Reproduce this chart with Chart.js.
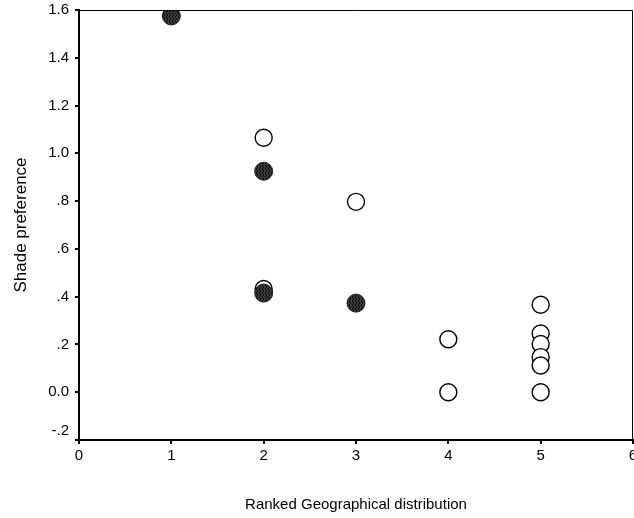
<!DOCTYPE html>
<html>
<head>
<meta charset="utf-8">
<script src="https://cdn.jsdelivr.net/npm/chart.js@4/dist/chart.umd.min.js"></script>
<style>
  html, body { margin: 0; padding: 0; background: #fff; }
  #wrap { width: 634px; height: 518px; }
</style>
</head>
<body>
<div id="wrap"><canvas id="c" width="634" height="518"></canvas></div>
<script>
// ---- data ----
const filledX = [1, 2, 2, 3];
const filledY = [1.575, 0.925, 0.415, 0.373];
const openX = [2, 2, 3, 4, 4, 5, 5, 5, 5, 5, 5];
const openY = [1.065, 0.432, 0.797, 0.222, 0.0, 0.366, 0.246, 0.202, 0.147, 0.112, 0.0];
const yTickLabels = ["-.2", "0.0", ".2", ".4", ".6", ".8", "1.0", "1.2", "1.4", "1.6"];
const xTickLabels = ["0", "1", "2", "3", "4", "5", "6"];
const xTitle = "Ranked Geographical distribution";
const yTitle = "Shade preference";

// hatched fill for the dark markers
function hatchPattern() {
  const p = document.createElement('canvas');
  p.width = 3; p.height = 4;
  const g = p.getContext('2d');
  g.fillStyle = '#3a3a3a';
  g.fillRect(0, 0, 3, 4);
  g.fillStyle = '#0e0e0e';
  g.fillRect(1, 0, 1, 2);
  g.fillRect(2, 2, 1, 2);
  return g.createPattern(p, 'repeat');
}

const frame = {
  id: 'frame',
  afterDraw(chart) {
    const { ctx, chartArea: a } = chart;
    ctx.save();
    ctx.strokeStyle = '#000';
    ctx.lineWidth = 1;
    ctx.beginPath();
    ctx.moveTo(a.left, a.top + 0.5);
    ctx.lineTo(a.right - 0.5, a.top + 0.5);
    ctx.lineTo(a.right - 0.5, a.bottom);
    ctx.stroke();
    ctx.restore();
  }
};

const toPts = (xs, ys) => xs.map((x, i) => ({ x, y: ys[i] }));
const FONT = 'Liberation Sans, Arial, sans-serif';

new Chart(document.getElementById('c'), {
  type: 'scatter',
  data: {
    datasets: [
      {
        label: 'filled',
        data: toPts(filledX, filledY),
        backgroundColor: hatchPattern(),
        borderColor: '#1e1e1e',
        borderWidth: 1,
        pointRadius: 9,
        pointHoverRadius: 9
      },
      {
        label: 'open',
        data: toPts(openX, openY),
        backgroundColor: '#fff',
        borderColor: '#000',
        borderWidth: 1.4,
        pointRadius: 8.5,
        pointHoverRadius: 8.5
      }
    ]
  },
  options: {
    responsive: false,
    animation: false,
    events: [],
    layout: { autoPadding: false, padding: { top: 10, right: 1, left: 0, bottom: 0 } },
    plugins: { legend: { display: false }, tooltip: { enabled: false } },
    scales: {
      x: {
        type: 'linear',
        min: 0, max: 6,
        ticks: {
          stepSize: 1,
          color: '#000',
          padding: 3,
          maxRotation: 0,
          font: { family: FONT, size: 15 },
          callback: (v, i) => xTickLabels[i]
        },
        grid: { drawOnChartArea: false, drawTicks: true, tickLength: 4, color: '#000', lineWidth: 2 },
        border: { color: '#000', width: 2 },
        title: {
          display: true,
          text: xTitle,
          color: '#000',
          font: { family: FONT, size: 15 },
          padding: { top: 0, bottom: 4 }
        },
        afterFit(s) { s.height = 78; s.paddingLeft = 0; s.paddingRight = 0; }
      },
      y: {
        type: 'linear',
        min: -0.2, max: 1.6,
        ticks: {
          stepSize: 0.2,
          color: '#000',
          padding: 6,
          font: { family: FONT, size: 15 },
          // lowest label sits slightly above its tick, as in the reference
          callback: (v, i) => (i === 0 ? [yTickLabels[i], ''] : yTickLabels[i])
        },
        grid: { drawOnChartArea: false, drawTicks: true, tickLength: 4, color: '#000', lineWidth: 2 },
        border: { color: '#000', width: 2 },
        title: {
          display: true,
          text: yTitle,
          color: '#000',
          font: { family: FONT, size: 17 },
          padding: { top: 11, bottom: 0 }
        },
        afterFit(s) { s.width = 79; s.paddingTop = 0; s.paddingBottom = 0; }
      }
    }
  },
  plugins: [frame]
});
</script>
</body>
</html>
